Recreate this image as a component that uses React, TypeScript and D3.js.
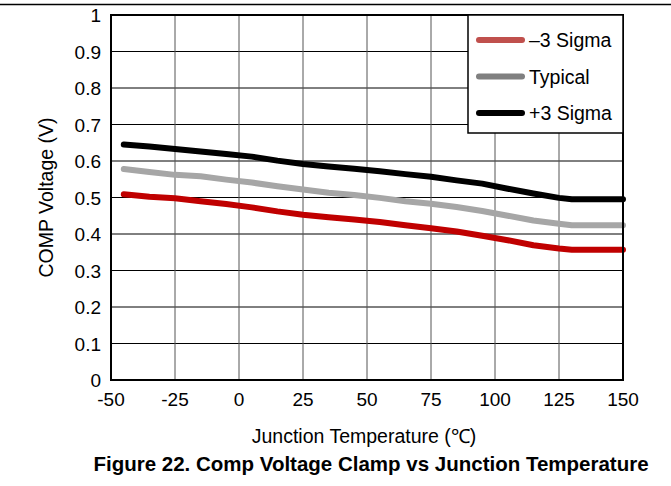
import React from 'react';
import * as d3 from 'd3';

const temps = [-45, -35, -25, -15, -5, 5, 15, 25, 35, 45, 55, 65, 75, 85, 95, 105, 115, 125, 130, 140, 150];
const minus3 = [0.509, 0.502, 0.498, 0.49, 0.482, 0.473, 0.462, 0.453, 0.446, 0.44, 0.433, 0.424, 0.416, 0.407, 0.395, 0.383, 0.369, 0.36, 0.357, 0.357, 0.357];
const typical = [0.578, 0.57, 0.562, 0.558, 0.549, 0.541, 0.531, 0.522, 0.513, 0.507, 0.499, 0.49, 0.483, 0.474, 0.463, 0.45, 0.437, 0.428, 0.424, 0.424, 0.424];
const plus3 = [0.645, 0.64, 0.633, 0.626, 0.619, 0.612, 0.601, 0.592, 0.585, 0.579, 0.572, 0.564, 0.557, 0.547, 0.538, 0.524, 0.511, 0.499, 0.495, 0.495, 0.495];
const xTicks = [-50, -25, 0, 25, 50, 75, 100, 125, 150];
const yTicks = [0, 0.1, 0.2, 0.3, 0.4, 0.5, 0.6, 0.7, 0.8, 0.9, 1];

const series = [
  { name: '\u20133 Sigma', values: minus3, color: '#c00000', legend: '#c0504d' },
  { name: 'Typical', values: typical, color: '#a6a6a6', legend: '#808080' },
  { name: '+3 Sigma', values: plus3, color: '#000000', legend: '#000000' },
];

const W = 671;
const H = 486;
const margin = { left: 111, right: 48, top: 15, bottom: 106 };
const font = 'Liberation Sans, Arial, sans-serif';

const App: React.FC = () => {
  const x = d3.scaleLinear().domain([-50, 150]).range([margin.left, W - margin.right]);
  const y = d3.scaleLinear().domain([0, 1]).range([H - margin.bottom, margin.top]);

  const line = d3.line<[number, number]>()
    .x(d => x(d[0]))
    .y(d => y(d[1]));

  const legX = 468;
  const legY = 15;

  return (
    <svg width={W} height={H} style={{ position: 'absolute', left: 0, top: 0, background: '#fff' }} fontFamily={font}>
      <line x1={0} x2={W} y1={4.5} y2={4.5} stroke="#000" strokeWidth={1.5} />

      {/* grid */}
      {yTicks.map(t => (
        <line key={'h' + t} x1={x(-50)} x2={x(150)} y1={y(t)} y2={y(t)} stroke="#000" strokeWidth={1} />
      ))}
      {xTicks.map(t => (
        <line key={'v' + t} x1={x(t)} x2={x(t)} y1={y(0)} y2={y(1)} stroke="#555" strokeWidth={1} />
      ))}

      {/* series */}
      {series.map(s => (
        <path
          key={s.name}
          d={line(temps.map((t, i) => [t, s.values[i]] as [number, number])) || ''}
          fill="none"
          stroke={s.color}
          strokeWidth={6}
          strokeLinejoin="round"
          strokeLinecap="round"
        />
      ))}

      {/* border */}
      <rect x={x(-50)} y={y(1)} width={x(150) - x(-50)} height={y(0) - y(1)} fill="none" stroke="#000" strokeWidth={2} />

      {/* legend */}
      <rect x={legX} y={legY} width={x(150) - legX} height={118} fill="#fff" stroke="#000" strokeWidth={1.5} />
      {series.map((s, i) => (
        <g key={'l' + s.name} transform={`translate(${legX}, ${legY + 25 + i * 36.5})`}>
          <line x1={11} x2={54} y1={0} y2={0} stroke={s.legend} strokeWidth={6} strokeLinecap="round" />
          <text x={61} y={7} fontSize={19.5}>{s.name}</text>
        </g>
      ))}

      {/* y ticks */}
      {yTicks.map(t => (
        <text key={'yt' + t} x={x(-50) - 10} y={y(t) + 7} fontSize={19} textAnchor="end">{d3.format('~g')(t)}</text>
      ))}
      {/* x ticks */}
      {xTicks.map(t => (
        <text key={'xt' + t} x={x(t)} y={y(0) + 26} fontSize={19} textAnchor="middle">{t}</text>
      ))}

      <text transform={`translate(53, ${(y(0) + y(1)) / 2}) rotate(-90)`} fontSize={19.5} textAnchor="middle">COMP Voltage (V)</text>
      <text x={364} y={443} fontSize={19.5} textAnchor="middle">Junction Temperature (&#8451;)</text>
      <text x={371} y={471} fontSize={20.5} fontWeight="bold" textAnchor="middle">Figure 22. Comp Voltage Clamp vs Junction Temperature</text>
    </svg>
  );
};

export default App;
